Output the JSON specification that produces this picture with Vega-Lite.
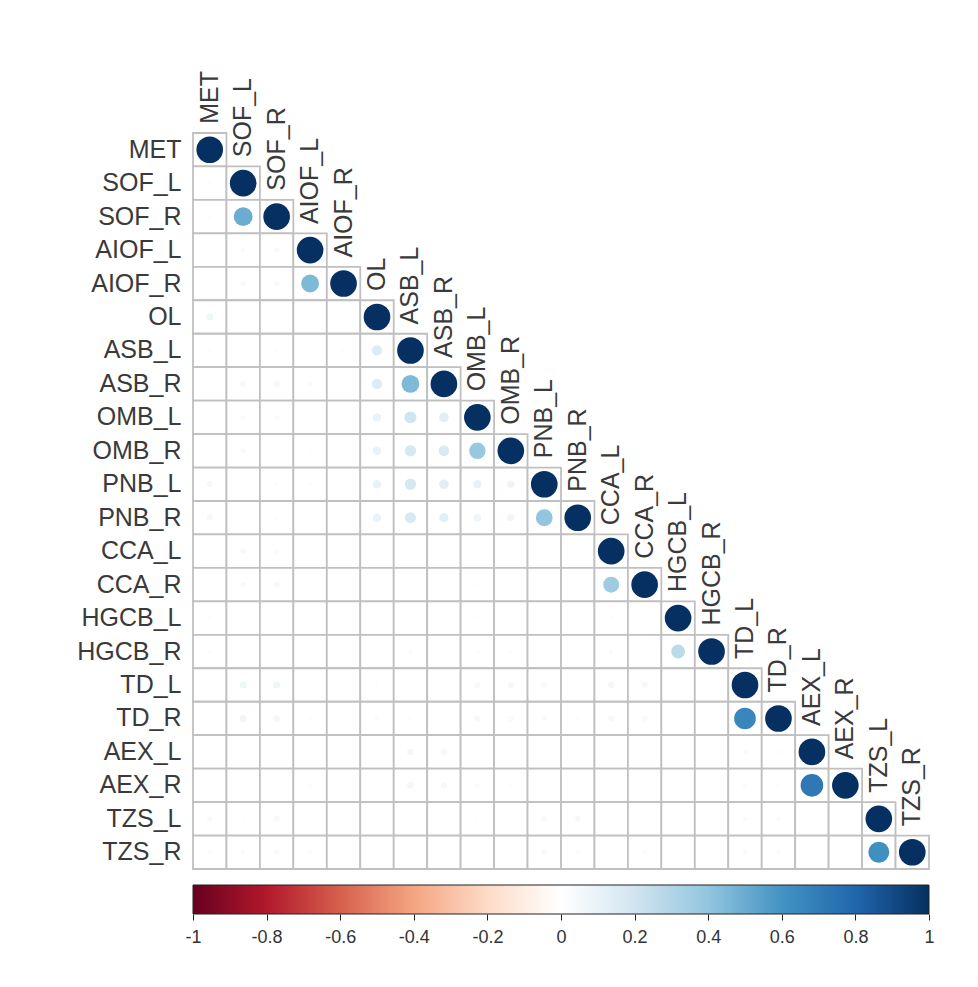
{
  "$schema": "https://vega.github.io/schema/vega-lite/v6.json",
  "background": "white",
  "padding": {"left": 76, "top": 70, "right": 10, "bottom": 10},
  "spacing": 14,
  "config": {"view": {"stroke": null}, "font": "Liberation Sans"},
  "datasets": {
    "cells": [
      {"row":"MET","col":"MET","r":1},
      {"row":"SOF_L","col":"MET","r":0.02},{"row":"SOF_L","col":"SOF_L","r":1},
      {"row":"SOF_R","col":"MET","r":0.02},{"row":"SOF_R","col":"SOF_L","r":0.5},{"row":"SOF_R","col":"SOF_R","r":1},
      {"row":"AIOF_L","col":"MET","r":0.01},{"row":"AIOF_L","col":"SOF_L","r":0.03},{"row":"AIOF_L","col":"SOF_R","r":0.04},{"row":"AIOF_L","col":"AIOF_L","r":1},
      {"row":"AIOF_R","col":"MET","r":0.01},{"row":"AIOF_R","col":"SOF_L","r":0.04},{"row":"AIOF_R","col":"SOF_R","r":0.04},{"row":"AIOF_R","col":"AIOF_L","r":0.45},{"row":"AIOF_R","col":"AIOF_R","r":1},
      {"row":"OL","col":"MET","r":0.07},{"row":"OL","col":"SOF_L","r":0.01},{"row":"OL","col":"SOF_R","r":0.01},{"row":"OL","col":"AIOF_L","r":0.01},{"row":"OL","col":"AIOF_R","r":0.01},{"row":"OL","col":"OL","r":1},
      {"row":"ASB_L","col":"MET","r":0.02},{"row":"ASB_L","col":"SOF_L","r":0.01},{"row":"ASB_L","col":"SOF_R","r":0.02},{"row":"ASB_L","col":"AIOF_L","r":0.01},{"row":"ASB_L","col":"AIOF_R","r":0.02},{"row":"ASB_L","col":"OL","r":0.15},{"row":"ASB_L","col":"ASB_L","r":1},
      {"row":"ASB_R","col":"MET","r":0.01},{"row":"ASB_R","col":"SOF_L","r":0.05},{"row":"ASB_R","col":"SOF_R","r":0.05},{"row":"ASB_R","col":"AIOF_L","r":0.03},{"row":"ASB_R","col":"AIOF_R","r":0.02},{"row":"ASB_R","col":"OL","r":0.15},{"row":"ASB_R","col":"ASB_L","r":0.45},{"row":"ASB_R","col":"ASB_R","r":1},
      {"row":"OMB_L","col":"MET","r":0.01},{"row":"OMB_L","col":"SOF_L","r":0.03},{"row":"OMB_L","col":"SOF_R","r":0.03},{"row":"OMB_L","col":"AIOF_L","r":0.01},{"row":"OMB_L","col":"AIOF_R","r":0.01},{"row":"OMB_L","col":"OL","r":0.1},{"row":"OMB_L","col":"ASB_L","r":0.2},{"row":"OMB_L","col":"ASB_R","r":0.13},{"row":"OMB_L","col":"OMB_L","r":1},
      {"row":"OMB_R","col":"MET","r":0.01},{"row":"OMB_R","col":"SOF_L","r":0.04},{"row":"OMB_R","col":"SOF_R","r":0.01},{"row":"OMB_R","col":"AIOF_L","r":0.02},{"row":"OMB_R","col":"AIOF_R","r":0.01},{"row":"OMB_R","col":"OL","r":0.1},{"row":"OMB_R","col":"ASB_L","r":0.18},{"row":"OMB_R","col":"ASB_R","r":0.16},{"row":"OMB_R","col":"OMB_L","r":0.38},{"row":"OMB_R","col":"OMB_R","r":1},
      {"row":"PNB_L","col":"MET","r":0.05},{"row":"PNB_L","col":"SOF_L","r":0.01},{"row":"PNB_L","col":"SOF_R","r":0.02},{"row":"PNB_L","col":"AIOF_L","r":0.02},{"row":"PNB_L","col":"AIOF_R","r":0.01},{"row":"PNB_L","col":"OL","r":0.1},{"row":"PNB_L","col":"ASB_L","r":0.18},{"row":"PNB_L","col":"ASB_R","r":0.13},{"row":"PNB_L","col":"OMB_L","r":0.1},{"row":"PNB_L","col":"OMB_R","r":0.08},{"row":"PNB_L","col":"PNB_L","r":1},
      {"row":"PNB_R","col":"MET","r":0.05},{"row":"PNB_R","col":"SOF_L","r":0.01},{"row":"PNB_R","col":"SOF_R","r":0.02},{"row":"PNB_R","col":"AIOF_L","r":0.01},{"row":"PNB_R","col":"AIOF_R","r":0.01},{"row":"PNB_R","col":"OL","r":0.1},{"row":"PNB_R","col":"ASB_L","r":0.17},{"row":"PNB_R","col":"ASB_R","r":0.12},{"row":"PNB_R","col":"OMB_L","r":0.08},{"row":"PNB_R","col":"OMB_R","r":0.07},{"row":"PNB_R","col":"PNB_L","r":0.4},{"row":"PNB_R","col":"PNB_R","r":1},
      {"row":"CCA_L","col":"MET","r":0.01},{"row":"CCA_L","col":"SOF_L","r":0.04},{"row":"CCA_L","col":"SOF_R","r":0.03},{"row":"CCA_L","col":"AIOF_L","r":0.01},{"row":"CCA_L","col":"AIOF_R","r":0.01},{"row":"CCA_L","col":"OL","r":0.01},{"row":"CCA_L","col":"ASB_L","r":0.01},{"row":"CCA_L","col":"ASB_R","r":0.01},{"row":"CCA_L","col":"OMB_L","r":0.01},{"row":"CCA_L","col":"OMB_R","r":0.01},{"row":"CCA_L","col":"PNB_L","r":0.01},{"row":"CCA_L","col":"PNB_R","r":0.01},{"row":"CCA_L","col":"CCA_L","r":1},
      {"row":"CCA_R","col":"MET","r":0.01},{"row":"CCA_R","col":"SOF_L","r":0.04},{"row":"CCA_R","col":"SOF_R","r":0.05},{"row":"CCA_R","col":"AIOF_L","r":0.01},{"row":"CCA_R","col":"AIOF_R","r":0.01},{"row":"CCA_R","col":"OL","r":0.01},{"row":"CCA_R","col":"ASB_L","r":0.01},{"row":"CCA_R","col":"ASB_R","r":0.01},{"row":"CCA_R","col":"OMB_L","r":0.02},{"row":"CCA_R","col":"OMB_R","r":0.01},{"row":"CCA_R","col":"PNB_L","r":0.02},{"row":"CCA_R","col":"PNB_R","r":0.01},{"row":"CCA_R","col":"CCA_L","r":0.36},{"row":"CCA_R","col":"CCA_R","r":1},
      {"row":"HGCB_L","col":"MET","r":0.02},{"row":"HGCB_L","col":"SOF_L","r":0.01},{"row":"HGCB_L","col":"SOF_R","r":0.01},{"row":"HGCB_L","col":"AIOF_L","r":0.01},{"row":"HGCB_L","col":"AIOF_R","r":0.01},{"row":"HGCB_L","col":"OL","r":0.01},{"row":"HGCB_L","col":"ASB_L","r":0.01},{"row":"HGCB_L","col":"ASB_R","r":0.01},{"row":"HGCB_L","col":"OMB_L","r":0.02},{"row":"HGCB_L","col":"OMB_R","r":0.01},{"row":"HGCB_L","col":"PNB_L","r":0.01},{"row":"HGCB_L","col":"PNB_R","r":0.01},{"row":"HGCB_L","col":"CCA_L","r":0.02},{"row":"HGCB_L","col":"CCA_R","r":0.01},{"row":"HGCB_L","col":"HGCB_L","r":1},
      {"row":"HGCB_R","col":"MET","r":0.02},{"row":"HGCB_R","col":"SOF_L","r":0.01},{"row":"HGCB_R","col":"SOF_R","r":0.01},{"row":"HGCB_R","col":"AIOF_L","r":0.01},{"row":"HGCB_R","col":"AIOF_R","r":0.01},{"row":"HGCB_R","col":"OL","r":0.01},{"row":"HGCB_R","col":"ASB_L","r":0.03},{"row":"HGCB_R","col":"ASB_R","r":0.01},{"row":"HGCB_R","col":"OMB_L","r":0.02},{"row":"HGCB_R","col":"OMB_R","r":0.02},{"row":"HGCB_R","col":"PNB_L","r":0.01},{"row":"HGCB_R","col":"PNB_R","r":0.01},{"row":"HGCB_R","col":"CCA_L","r":0.03},{"row":"HGCB_R","col":"CCA_R","r":0.01},{"row":"HGCB_R","col":"HGCB_L","r":0.27},{"row":"HGCB_R","col":"HGCB_R","r":1},
      {"row":"TD_L","col":"MET","r":0.02},{"row":"TD_L","col":"SOF_L","r":0.07},{"row":"TD_L","col":"SOF_R","r":0.07},{"row":"TD_L","col":"AIOF_L","r":0.01},{"row":"TD_L","col":"AIOF_R","r":0.01},{"row":"TD_L","col":"OL","r":0.02},{"row":"TD_L","col":"ASB_L","r":0.01},{"row":"TD_L","col":"ASB_R","r":0.01},{"row":"TD_L","col":"OMB_L","r":0.05},{"row":"TD_L","col":"OMB_R","r":0.05},{"row":"TD_L","col":"PNB_L","r":0.04},{"row":"TD_L","col":"PNB_R","r":0.02},{"row":"TD_L","col":"CCA_L","r":0.06},{"row":"TD_L","col":"CCA_R","r":0.05},{"row":"TD_L","col":"HGCB_L","r":0.01},{"row":"TD_L","col":"HGCB_R","r":0.01},{"row":"TD_L","col":"TD_L","r":1},
      {"row":"TD_R","col":"MET","r":0.01},{"row":"TD_R","col":"SOF_L","r":0.07},{"row":"TD_R","col":"SOF_R","r":0.06},{"row":"TD_R","col":"AIOF_L","r":0.02},{"row":"TD_R","col":"AIOF_R","r":0.01},{"row":"TD_R","col":"OL","r":0.03},{"row":"TD_R","col":"ASB_L","r":0.02},{"row":"TD_R","col":"ASB_R","r":0.01},{"row":"TD_R","col":"OMB_L","r":0.05},{"row":"TD_R","col":"OMB_R","r":0.04},{"row":"TD_R","col":"PNB_L","r":0.04},{"row":"TD_R","col":"PNB_R","r":0.02},{"row":"TD_R","col":"CCA_L","r":0.05},{"row":"TD_R","col":"CCA_R","r":0.04},{"row":"TD_R","col":"HGCB_L","r":0.01},{"row":"TD_R","col":"HGCB_R","r":0.01},{"row":"TD_R","col":"TD_L","r":0.66},{"row":"TD_R","col":"TD_R","r":1},
      {"row":"AEX_L","col":"MET","r":0.01},{"row":"AEX_L","col":"SOF_L","r":0.01},{"row":"AEX_L","col":"SOF_R","r":0.01},{"row":"AEX_L","col":"AIOF_L","r":0.02},{"row":"AEX_L","col":"AIOF_R","r":0.01},{"row":"AEX_L","col":"OL","r":0.01},{"row":"AEX_L","col":"ASB_L","r":0.06},{"row":"AEX_L","col":"ASB_R","r":0.05},{"row":"AEX_L","col":"OMB_L","r":0.01},{"row":"AEX_L","col":"OMB_R","r":0.01},{"row":"AEX_L","col":"PNB_L","r":0.01},{"row":"AEX_L","col":"PNB_R","r":0.01},{"row":"AEX_L","col":"CCA_L","r":0.01},{"row":"AEX_L","col":"CCA_R","r":0.01},{"row":"AEX_L","col":"HGCB_L","r":0.01},{"row":"AEX_L","col":"HGCB_R","r":0.01},{"row":"AEX_L","col":"TD_L","r":0.03},{"row":"AEX_L","col":"TD_R","r":0.02},{"row":"AEX_L","col":"AEX_L","r":1},
      {"row":"AEX_R","col":"MET","r":0.01},{"row":"AEX_R","col":"SOF_L","r":0.01},{"row":"AEX_R","col":"SOF_R","r":0.01},{"row":"AEX_R","col":"AIOF_L","r":0.03},{"row":"AEX_R","col":"AIOF_R","r":0.01},{"row":"AEX_R","col":"OL","r":0.01},{"row":"AEX_R","col":"ASB_L","r":0.06},{"row":"AEX_R","col":"ASB_R","r":0.05},{"row":"AEX_R","col":"OMB_L","r":0.03},{"row":"AEX_R","col":"OMB_R","r":0.02},{"row":"AEX_R","col":"PNB_L","r":0.01},{"row":"AEX_R","col":"PNB_R","r":0.01},{"row":"AEX_R","col":"CCA_L","r":0.01},{"row":"AEX_R","col":"CCA_R","r":0.01},{"row":"AEX_R","col":"HGCB_L","r":0.01},{"row":"AEX_R","col":"HGCB_R","r":0.01},{"row":"AEX_R","col":"TD_L","r":0.03},{"row":"AEX_R","col":"TD_R","r":0.02},{"row":"AEX_R","col":"AEX_L","r":0.72},{"row":"AEX_R","col":"AEX_R","r":1},
      {"row":"TZS_L","col":"MET","r":0.04},{"row":"TZS_L","col":"SOF_L","r":0.02},{"row":"TZS_L","col":"SOF_R","r":0.05},{"row":"TZS_L","col":"AIOF_L","r":0.01},{"row":"TZS_L","col":"AIOF_R","r":0.01},{"row":"TZS_L","col":"OL","r":0.01},{"row":"TZS_L","col":"ASB_L","r":0.01},{"row":"TZS_L","col":"ASB_R","r":0.01},{"row":"TZS_L","col":"OMB_L","r":0.02},{"row":"TZS_L","col":"OMB_R","r":0.01},{"row":"TZS_L","col":"PNB_L","r":0.04},{"row":"TZS_L","col":"PNB_R","r":0.05},{"row":"TZS_L","col":"CCA_L","r":0.01},{"row":"TZS_L","col":"CCA_R","r":0.01},{"row":"TZS_L","col":"HGCB_L","r":0.01},{"row":"TZS_L","col":"HGCB_R","r":0.01},{"row":"TZS_L","col":"TD_L","r":0.03},{"row":"TZS_L","col":"TD_R","r":0.03},{"row":"TZS_L","col":"AEX_L","r":0.01},{"row":"TZS_L","col":"AEX_R","r":0.01},{"row":"TZS_L","col":"TZS_L","r":1},
      {"row":"TZS_R","col":"MET","r":0.03},{"row":"TZS_R","col":"SOF_L","r":0.03},{"row":"TZS_R","col":"SOF_R","r":0.04},{"row":"TZS_R","col":"AIOF_L","r":0.03},{"row":"TZS_R","col":"AIOF_R","r":0.01},{"row":"TZS_R","col":"OL","r":0.01},{"row":"TZS_R","col":"ASB_L","r":0.01},{"row":"TZS_R","col":"ASB_R","r":0.01},{"row":"TZS_R","col":"OMB_L","r":0.01},{"row":"TZS_R","col":"OMB_R","r":0.01},{"row":"TZS_R","col":"PNB_L","r":0.04},{"row":"TZS_R","col":"PNB_R","r":0.03},{"row":"TZS_R","col":"CCA_L","r":0.02},{"row":"TZS_R","col":"CCA_R","r":0.03},{"row":"TZS_R","col":"HGCB_L","r":0.01},{"row":"TZS_R","col":"HGCB_R","r":0.01},{"row":"TZS_R","col":"TD_L","r":0.03},{"row":"TZS_R","col":"TD_R","r":0.03},{"row":"TZS_R","col":"AEX_L","r":0.01},{"row":"TZS_R","col":"AEX_R","r":0.01},{"row":"TZS_R","col":"TZS_L","r":0.62},{"row":"TZS_R","col":"TZS_R","r":1}
    ]
  },
  "vconcat": [
    {
      "width": 736,
      "height": 736,
      "data": {"name": "cells"},
      "encoding": {
        "x": {
          "field": "col", "type": "nominal",
          "scale": {"type": "band", "paddingInner": 0, "paddingOuter": 0,
            "domain": ["MET","SOF_L","SOF_R","AIOF_L","AIOF_R","OL","ASB_L","ASB_R","OMB_L","OMB_R","PNB_L","PNB_R","CCA_L","CCA_R","HGCB_L","HGCB_R","TD_L","TD_R","AEX_L","AEX_R","TZS_L","TZS_R"]},
          "axis": null
        },
        "y": {
          "field": "row", "type": "nominal",
          "scale": {"type": "band", "paddingInner": 0, "paddingOuter": 0,
            "domain": ["MET","SOF_L","SOF_R","AIOF_L","AIOF_R","OL","ASB_L","ASB_R","OMB_L","OMB_R","PNB_L","PNB_R","CCA_L","CCA_R","HGCB_L","HGCB_R","TD_L","TD_R","AEX_L","AEX_R","TZS_L","TZS_R"]},
          "axis": {"title": null, "domain": false, "ticks": false, "labelPadding": 12, "labelFontSize": 25, "labelColor": "#3a3a3a", "labelFont": "Liberation Sans"}
        }
      },
      "layer": [
        {"mark": {"type": "rect", "fill": "white", "stroke": "#c0c0c0", "strokeWidth": 1.8}},
        {
          "mark": {"type": "circle", "opacity": 1},
          "encoding": {
            "size": {"field": "r", "type": "quantitative", "scale": {"type": "linear", "domain": [0, 1], "range": [0, 710]}, "legend": null},
            "color": {"field": "r", "type": "quantitative", "legend": null,
              "scale": {"type": "linear", "interpolate": "rgb",
                "domain": [-1, -0.8, -0.6, -0.4, -0.2, 0, 0.2, 0.4, 0.6, 0.8, 1],
                "range": ["#67001F", "#B2182B", "#D6604D", "#F4A582", "#FDDBC7", "#FFFFFF", "#D1E5F0", "#92C5DE", "#4393C3", "#2166AC", "#053061"]}}
          }
        },
        {
          "transform": [{"filter": "datum.row === datum.col"}],
          "mark": {"type": "text", "angle": 270, "align": "left", "baseline": "middle", "dx": 26, "fontSize": 25, "font": "Liberation Sans", "color": "#3a3a3a"},
          "encoding": {"text": {"field": "col"}}
        }
      ]
    },
    {
      "width": 736,
      "height": 29,
      "data": {"values": [{"lo": -1, "hi": 1}]},
      "mark": {
        "type": "rect", "stroke": "#222222", "strokeWidth": 1,
        "fill": {"gradient": "linear", "x1": 0, "x2": 1, "y1": 0, "y2": 0,
          "stops": [
            {"offset": 0, "color": "#67001F"}, {"offset": 0.1, "color": "#B2182B"},
            {"offset": 0.2, "color": "#D6604D"}, {"offset": 0.3, "color": "#F4A582"},
            {"offset": 0.4, "color": "#FDDBC7"}, {"offset": 0.5, "color": "#FFFFFF"},
            {"offset": 0.6, "color": "#D1E5F0"}, {"offset": 0.7, "color": "#92C5DE"},
            {"offset": 0.8, "color": "#4393C3"}, {"offset": 0.9, "color": "#2166AC"},
            {"offset": 1, "color": "#053061"}]}
      },
      "encoding": {
        "x": {
          "field": "lo", "type": "quantitative",
          "scale": {"domain": [-1, 1], "nice": false, "zero": false},
          "axis": {"title": null, "grid": false, "domain": false, "orient": "bottom",
            "values": [-1, -0.8, -0.6, -0.4, -0.2, 0, 0.2, 0.4, 0.6, 0.8, 1],
            "labelExpr": "'' + datum.value", "labelFlush": false, "labelOverlap": false,
            "tickSize": 6, "tickColor": "#222222", "tickWidth": 1,
            "labelFontSize": 18, "labelColor": "#333333", "labelFont": "Liberation Sans", "labelPadding": 8}
        },
        "x2": {"field": "hi"}
      }
    }
  ]
}
